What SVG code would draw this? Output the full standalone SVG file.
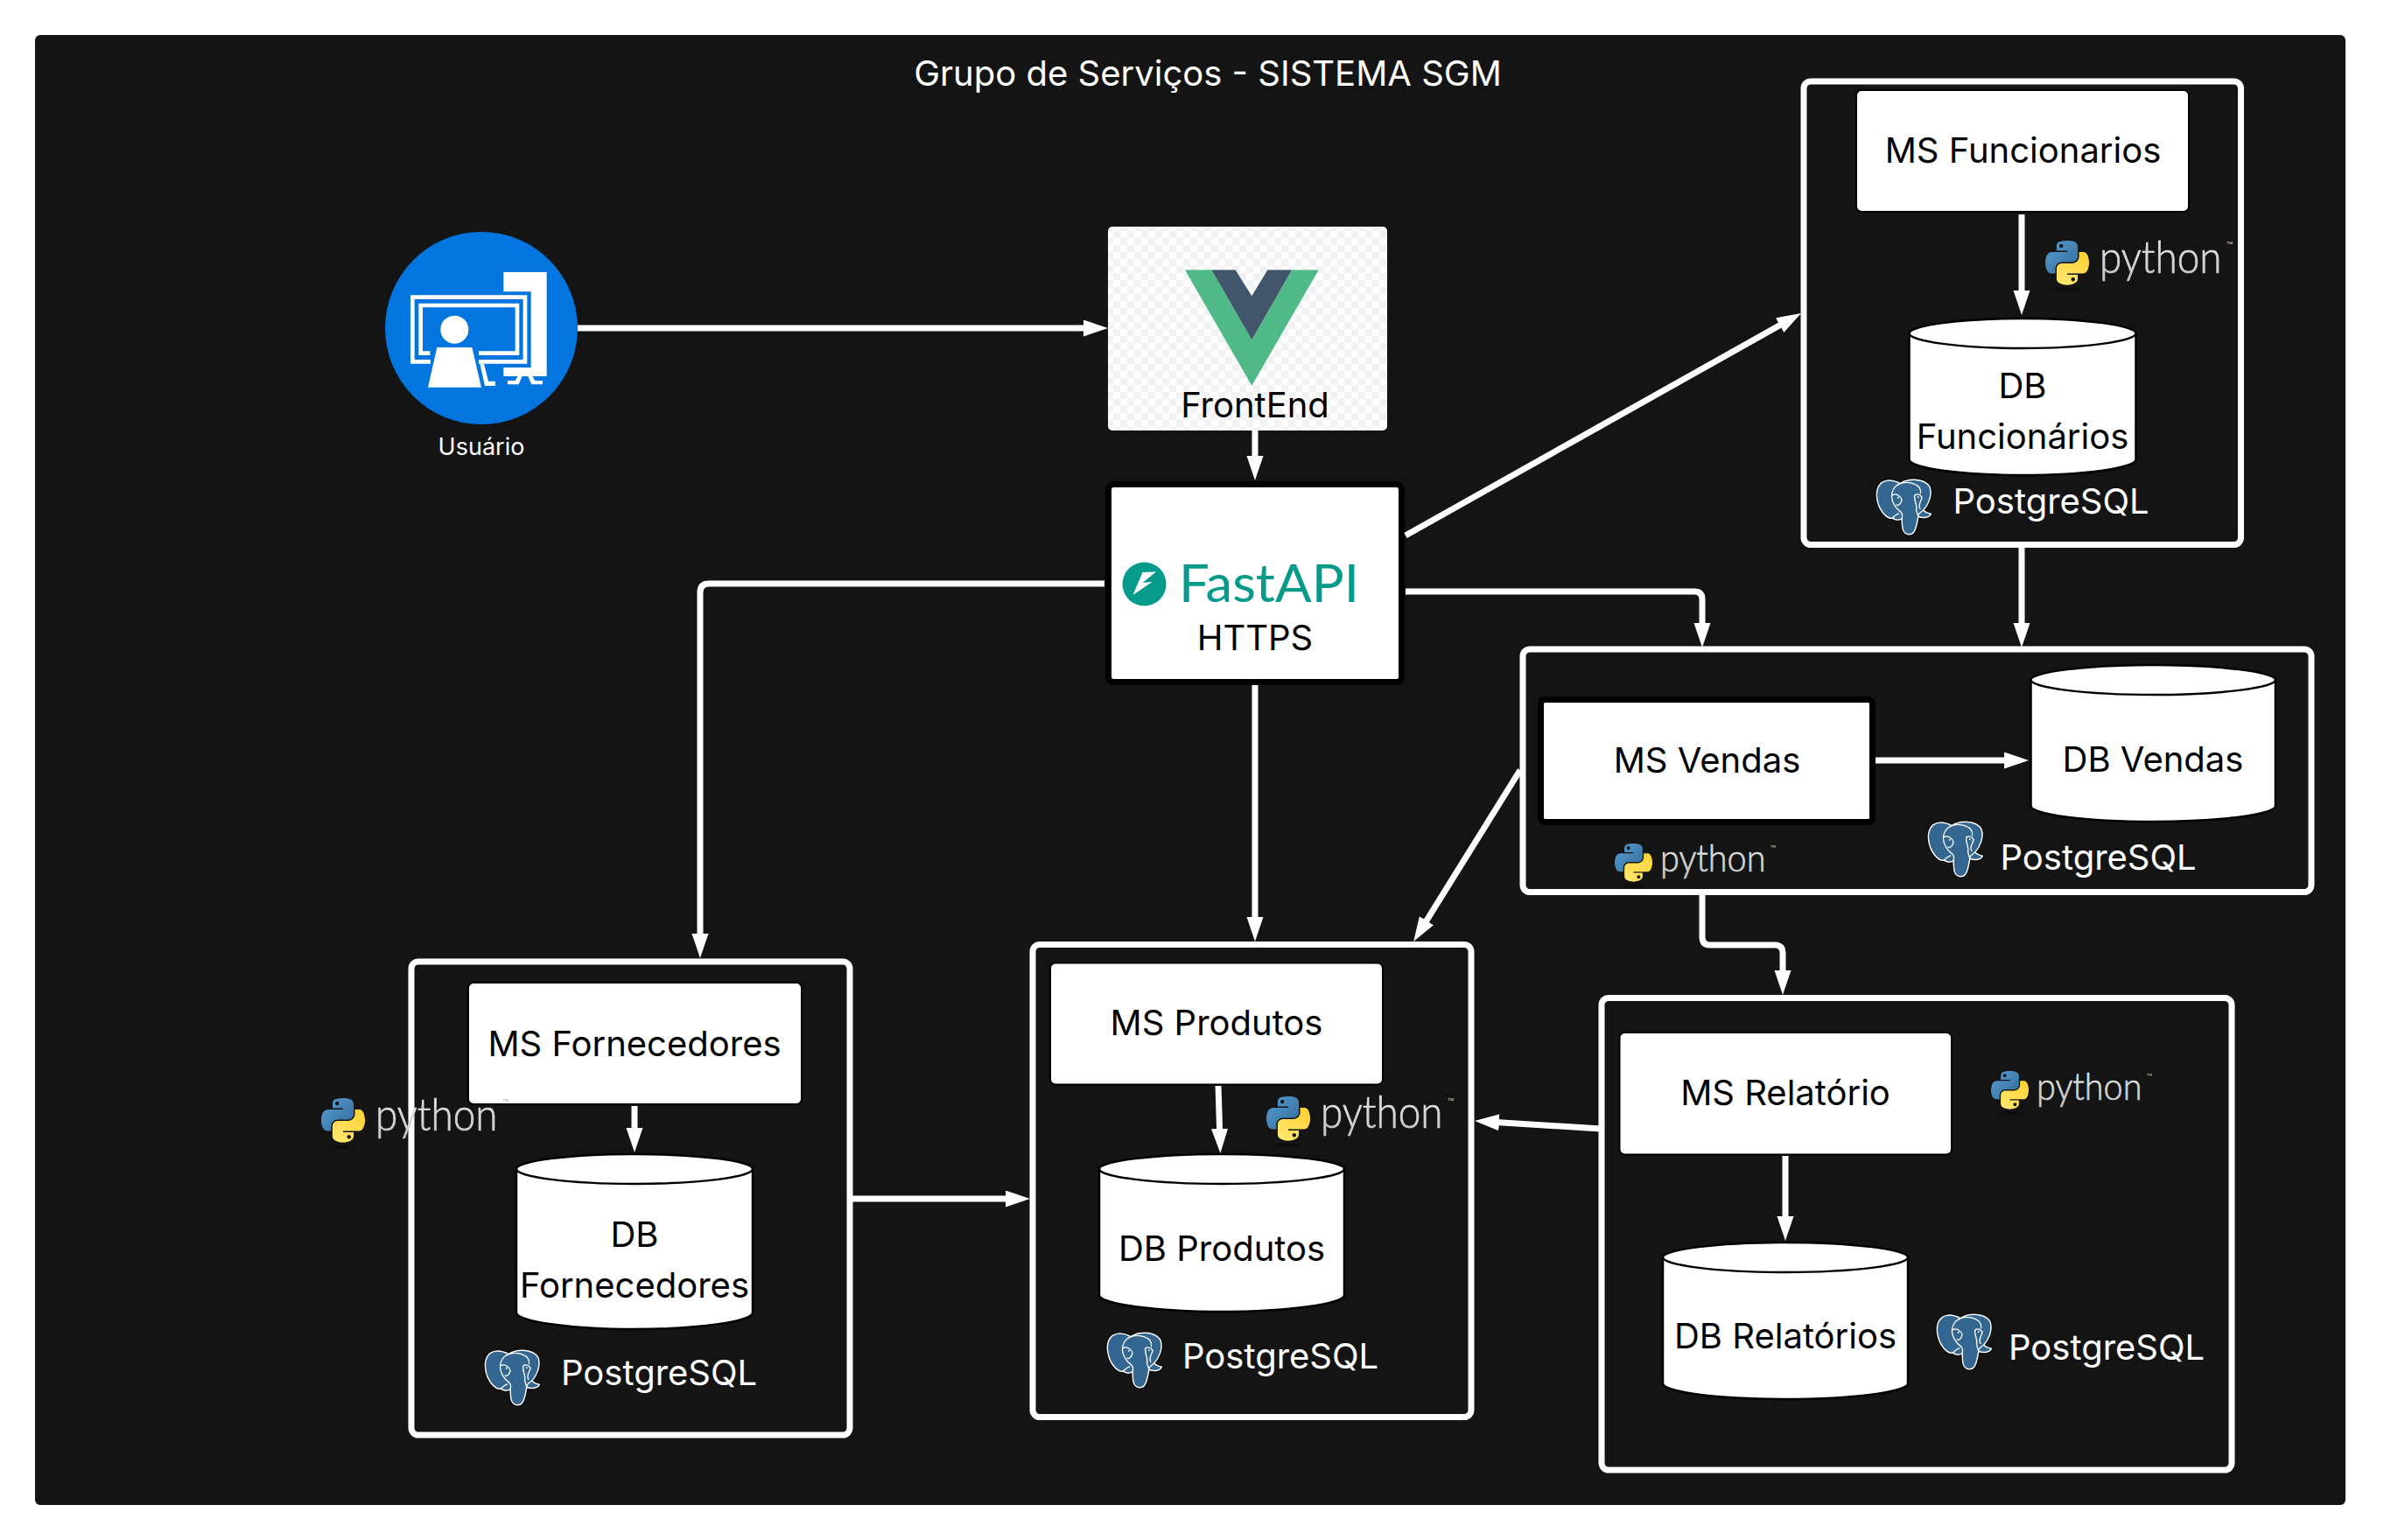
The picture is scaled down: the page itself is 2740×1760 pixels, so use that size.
<svg xmlns="http://www.w3.org/2000/svg" width="2740" height="1760" viewBox="0 0 2740 1760">
<style>
text{font-family:"Inter","Liberation Sans",sans-serif}
.g{fill:#141414;stroke:#fff;stroke-width:7}
.m{fill:#fff;stroke:#000;stroke-width:2}
.d{fill:#fff;stroke:#000;stroke-width:2.5}
.l{fill:none;stroke:#000;stroke-width:2.5}
.t{font-size:40px;fill:#000;text-anchor:middle}
.w{font-size:40px;fill:#fff}
.c{fill:none;stroke:#fff;stroke-width:7;stroke-linejoin:round}
.py{font-family:"Lato","Open Sans",sans-serif;font-weight:300;fill:url(#pg);stroke:url(#pg);stroke-width:.7}
.tm{font-size:12px;fill:#bbb}
</style>
<defs>
<marker id="a" markerUnits="userSpaceOnUse" markerWidth="30" markerHeight="20" refX="8" refY="9.5" orient="auto"><path d="M0 0L28 9.5L0 19Z" fill="#fff"/></marker>
<pattern id="chk" width="16" height="16" patternUnits="userSpaceOnUse"><rect width="16" height="16" fill="#fdfdfd"/><rect width="8" height="8" fill="#f1f2f3"/><rect x="8" y="8" width="8" height="8" fill="#f1f2f3"/></pattern>
<linearGradient id="pb" x1="0" y1="0" x2="1" y2="1"><stop offset="0" stop-color="#5a9fd4"/><stop offset="1" stop-color="#306998"/></linearGradient>
<linearGradient id="py" x1="0" y1="1" x2="0.6" y2="0"><stop offset="0" stop-color="#ffe873"/><stop offset="1" stop-color="#ffd43b"/></linearGradient>
<linearGradient id="pg" x1="0" y1="0" x2="0" y2="1"><stop offset="0" stop-color="#ececec"/><stop offset="1" stop-color="#c4c4c4"/></linearGradient>
<radialGradient id="sh"><stop offset="0" stop-color="#000" stop-opacity=".55"/><stop offset="1" stop-color="#000" stop-opacity="0"/></radialGradient>
<symbol id="snake" viewBox="0 0 111 113" overflow="visible">
<ellipse cx="55" cy="124" rx="42" ry="8" fill="url(#sh)"/>
<path fill="url(#pb)" fill-rule="evenodd" d="M54.9 0C50.3 0 46 .4 42.1 1.1 30.8 3.1 28.7 7.3 28.7 15V25.3H55.5V28.7H18.6C10.8 28.7 4 33.3 1.9 42.3-.6 52.5-.7 58.8 1.9 69.5 3.8 77.4 8.3 83.1 16.1 83.1H25.4V70.8C25.4 62 33 54.2 42.1 54.2H68.9C76.3 54.2 82.3 48 82.3 40.5V15C82.3 7.8 76.2 2.3 68.9 1.1 64.3.3 59.5 0 54.9 0ZM40.4 8.2C43.2 8.2 45.4 10.5 45.4 13.3 45.4 16.2 43.2 18.4 40.4 18.4 37.6 18.4 35.4 16.2 35.4 13.3 35.4 10.5 37.6 8.2 40.4 8.2Z"/>
<path fill="url(#py)" fill-rule="evenodd" d="M85.6 28.7V40.6C85.6 49.8 77.8 57.6 68.9 57.6H42.1C34.8 57.6 28.7 63.8 28.7 71.2V96.7C28.7 104 35 108.3 42.1 110.3 50.6 112.8 58.7 113.3 68.9 110.3 75.6 108.4 82.3 104.5 82.3 96.7V86.5H55.5V83.1H95.7C103.5 83.1 106.4 77.7 109.1 69.5 111.9 61.1 111.8 53 109.1 42.3 107.2 34.5 103.5 28.7 95.7 28.7ZM70.6 93.3C73.4 93.3 75.6 95.6 75.6 98.4 75.6 101.2 73.4 103.5 70.6 103.5 67.8 103.5 65.5 101.2 65.5 98.4 65.5 95.6 67.8 93.3 70.6 93.3Z"/>
</symbol>
<symbol id="pg-el" viewBox="0 0 194 200" overflow="visible">
<g transform="translate(-24 -21)">
<path fill="#336791" stroke="#000" stroke-width="10" stroke-linejoin="round" d="M45 35C65 22 90 28 110 38 130 22 190 15 212 50 222 80 205 115 190 130 195 138 205 140 216 143 212 155 190 160 172 152 170 165 165 190 160 200 150 220 125 220 118 195 115 180 116 170 115 160 105 165 92 165 82 158 72 160 60 152 50 140 30 115 15 60 45 35Z"/>
<path fill="#336791" stroke="#fff" stroke-width="4.5" stroke-linejoin="round" d="M45 35C65 22 90 28 110 38 130 22 190 15 212 50 222 80 205 115 190 130 195 138 205 140 216 143 212 155 190 160 172 152 170 165 165 190 160 200 150 220 125 220 118 195 115 180 116 170 115 160 105 165 92 165 82 158 72 160 60 152 50 140 30 115 15 60 45 35Z"/>
<path fill="none" stroke="#fff" stroke-width="4" stroke-linecap="round" d="M110 38C90 45 78 65 80 85 82 105 95 125 110 135 118 142 118 150 115 160M110 38C140 28 185 40 180 72M82 158C90 150 95 145 105 142M172 152C170 145 175 140 190 130M82 78C95 70 112 82 115 95 112 112 100 115 97 112M160 78C170 72 180 78 185 86 182 100 170 110 178 125M160 78C155 95 170 110 165 128 168 140 170 145 172 152"/>
<circle cx="102" cy="87" r="3" fill="#fff"/><circle cx="172" cy="85" r="3" fill="#fff"/>
</g>
</symbol>
</defs>
<rect width="2740" height="1760" fill="#fff"/>
<rect id="canvas" x="40" y="40" width="2640" height="1680" rx="6" fill="#141414"/>
<text x="1380" y="98" text-anchor="middle" class="w" id="title">Grupo de Serviços - SISTEMA SGM</text>

<g id="usuario">
<circle cx="550" cy="375" r="110" fill="#0275de"/>
<g transform="translate(400 230) scale(.33333)" fill="#fff">
<path d="M526 243H674V600H526V570H620V310H526Z"/>
<path d="M276 557H207V322H607V557H441V543H593V336H221V543H276Z"/>
<path d="M274 528H235V350H580V528H441V514H566V364H249V514H274Z"/>
<circle cx="358" cy="440" r="48"/>
<path d="M298 501H418L450 638H267Z"/>
<path d="M445 557H459L474 617H498V633H462Z"/>
<path d="M540 615H566L574 600H590L578 628H540ZM660 615H634L626 600H610L622 628H660Z"/>
</g>
<text x="550" y="520" text-anchor="middle" font-size="27" fill="#fff">Usuário</text>
</g>

<g id="frontend">
<rect x="1266" y="259" width="319" height="233" rx="5" fill="url(#chk)"/>
<g transform="translate(1240 240) scale(.33333 .35714)">
<path fill="#4fb987" d="M342 192H433L571 415L708 192H800L571 562Z"/>
<path fill="#41566b" d="M433 192H515L571 275L625 192H708L571 415Z"/>
</g>
<text x="1434" y="477" class="t">FrontEnd</text>
</g>

<g id="fastapi">
<rect x="1266.500" y="553.500" width="335" height="226" rx="6" fill="#fff" stroke="#000" stroke-width="7"/>
<circle cx="1307.500" cy="667.500" r="25" fill="#059a8a"/>
<path fill="#fff" d="M1321 653.500L1305.500 654 1294.500 680 1316.500 665 1305.500 666Z"/>
<text x="1347" y="688" font-size="60" fill="#059a8a" textLength="206" lengthAdjust="spacingAndGlyphs" style="font-family:'Lato','Open Sans',sans-serif">FastAPI</text>
<text x="1434" y="743" class="t">HTTPS</text>
</g>

<g id="ms-funcionarios-group">
<rect class="g" x="2061" y="93" width="499.500" height="529.500" rx="8"/>
<rect class="m" x="2121" y="103" width="380" height="139" rx="6"/>
<text x="2311.500" y="186" class="t">MS Funcionarios</text>
<path class="d" d="M2181.500 381C2181.500 372 2240 364 2311 364S2440.500 372 2440.500 381V525C2440.500 535 2382 543 2311 543S2181.500 535 2181.500 525Z"/>
<path class="l" d="M2181.500 381C2181.500 390 2240 398 2311 398S2440.500 390 2440.500 381"/>
<text x="2311" y="455" class="t">DB</text>
<text x="2311" y="513" class="t">Funcionários</text>
<use href="#snake" x="2337" y="275" width="50" height="51"/>
<text transform="translate(2399 312) scale(.9 1)" class="py" font-size="51">python</text><text x="2544" y="285" class="tm">™</text>
<use href="#pg-el" x="2143" y="547" width="64" height="66"/>
<text x="2231.500" y="587" class="w">PostgreSQL</text>
</g>

<g id="ms-vendas-group">
<rect class="g" x="1740" y="742" width="901" height="277.500" rx="8"/>
<rect x="1760.500" y="799.500" width="379" height="140" rx="5" fill="#fff" stroke="#000" stroke-width="7"/>
<text x="1950.500" y="883" class="t">MS Vendas</text>
<path class="d" d="M2320.500 777C2320.500 768 2384 760 2460 760S2600 768 2600 777V921C2600 931 2536 939 2460 939S2320.500 931 2320.500 921Z"/>
<path class="l" d="M2320.500 777C2320.500 786 2384 794 2460 794S2600 786 2600 777"/>
<text x="2460" y="882" class="t">DB Vendas</text>
<use href="#snake" x="1845" y="964" width="43" height="44"/>
<text transform="translate(1897 996) scale(.9 1)" class="py" font-size="44">python</text><text x="2023" y="974" class="tm" style="font-size:10px">™</text>
<use href="#pg-el" x="2202" y="938" width="64" height="66"/>
<text x="2285.500" y="994" class="w">PostgreSQL</text>
</g>

<g id="ms-produtos-group">
<rect class="g" x="1180" y="1079.500" width="501" height="540" rx="8"/>
<rect class="m" x="1200" y="1100.500" width="380" height="139" rx="6"/>
<text x="1390" y="1183" class="t">MS Produtos</text>
<path class="d" d="M1256 1336C1256 1327 1319 1319 1396 1319S1536 1327 1536 1336V1480C1536 1490 1472 1499 1396 1499S1256 1490 1256 1480Z"/>
<path class="l" d="M1256 1336C1256 1345 1319 1353 1396 1353S1536 1345 1536 1336"/>
<text x="1396" y="1441" class="t">DB Produtos</text>
<use href="#snake" x="1447" y="1253" width="50" height="51"/>
<text transform="translate(1509 1289) scale(.9 1)" class="py" font-size="51">python</text><text x="1654" y="1264" class="tm">™</text>
<use href="#pg-el" x="1264" y="1522" width="64" height="66"/>
<text x="1351" y="1564" class="w">PostgreSQL</text>
</g>

<g id="ms-fornecedores-group">
<rect class="g" x="470" y="1099" width="501" height="541" rx="8"/>
<rect class="m" x="535" y="1123" width="381" height="139" rx="6"/>
<text x="725" y="1207" class="t">MS Fornecedores</text>
<path class="d" d="M590 1336C590 1327 650 1319 725 1319S860 1327 860 1336V1500C860 1510 800 1519 725 1519S590 1510 590 1500Z"/>
<path class="l" d="M590 1336C590 1345 650 1353 725 1353S860 1345 860 1336"/>
<text x="725" y="1425" class="t">DB</text>
<text x="725" y="1483" class="t">Fornecedores</text>
<use href="#pg-el" x="553" y="1542" width="64" height="66"/>
<text x="641" y="1583" class="w">PostgreSQL</text>
<use href="#snake" x="367" y="1255" width="50" height="51"/>
<text transform="translate(429 1292) scale(.9 1)" class="py" font-size="51">python</text><text x="574" y="1265" class="tm">™</text>
</g>

<g id="ms-relatorio-group">
<rect class="g" x="1830" y="1140.500" width="720" height="539.500" rx="8"/>
<rect class="m" x="1850.500" y="1180" width="379.500" height="139.500" rx="6"/>
<text x="2040" y="1263" class="t">MS Relatório</text>
<path class="d" d="M1900 1437C1900 1428 1963 1420 2040 1420S2180 1428 2180 1437V1581C2180 1591 2116 1599 2040 1599S1900 1591 1900 1581Z"/>
<path class="l" d="M1900 1437C1900 1446 1963 1454 2040 1454S2180 1446 2180 1437"/>
<text x="2040" y="1541" class="t">DB Relatórios</text>
<use href="#snake" x="2275" y="1224" width="43" height="44"/>
<text transform="translate(2327 1257) scale(.9 1)" class="py" font-size="44">python</text><text x="2453" y="1235" class="tm" style="font-size:10px">™</text>
<use href="#pg-el" x="2212" y="1501" width="64" height="66"/>
<text x="2295" y="1554" class="w">PostgreSQL</text>
</g>

<g id="connectors">
<path class="c" marker-end="url(#a)" d="M660 375H1246"/>
<path class="c" marker-end="url(#a)" d="M1434 492V529"/>
<path class="c" marker-end="url(#a)" d="M1606 612L2040.600 367.800"/>
<path class="c" marker-end="url(#a)" d="M1606 676H1936Q1945 676 1945 685V720"/>
<path class="c" marker-end="url(#a)" d="M1262 667H810Q800 667 800 677V1075"/>
<path class="c" marker-end="url(#a)" d="M1434 783V1056"/>
<path class="c" marker-end="url(#a)" d="M2310 626V720"/>
<path class="c" marker-end="url(#a)" d="M2143 869H2298"/>
<path class="c" marker-end="url(#a)" d="M1737 880L1625.700 1059"/>
<path class="c" marker-end="url(#a)" d="M1945 1023V1071Q1945 1080 1954 1080H2028Q2037 1080 2037 1089V1117"/>
<path class="c" marker-end="url(#a)" d="M974 1370H1157"/>
<path class="c" marker-end="url(#a)" d="M1829 1290L1705 1282.300"/>
<path class="c" marker-end="url(#a)" d="M725 1264V1297"/>
<path class="c" marker-end="url(#a)" d="M1392 1241L1393.800 1298"/>
<path class="c" marker-end="url(#a)" d="M2040 1321V1398"/>
<path class="c" marker-end="url(#a)" d="M2310 245V340"/>
</g>
</svg>
